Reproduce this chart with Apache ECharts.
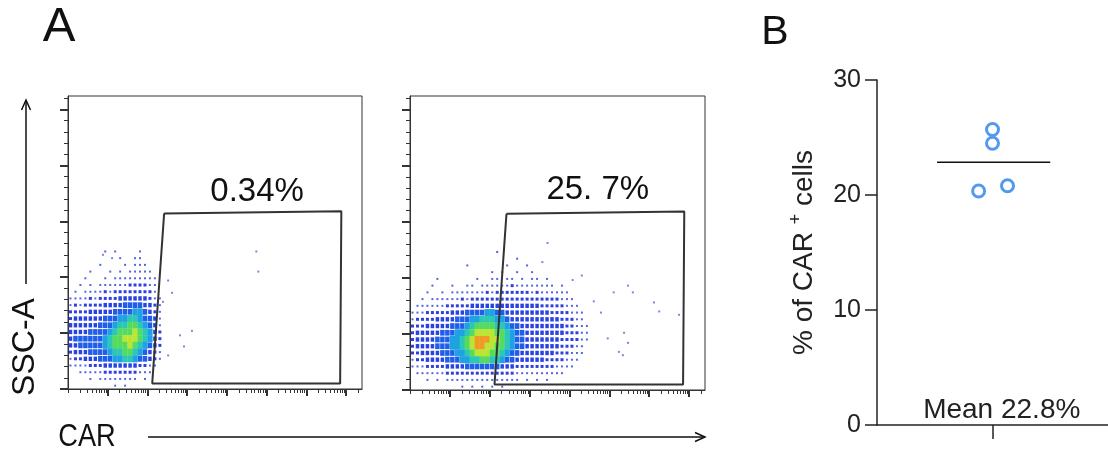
<!DOCTYPE html>
<html><head><meta charset="utf-8">
<script src="https://cdn.jsdelivr.net/npm/echarts@6/dist/echarts.min.js"></script>
<style>html,body{margin:0;padding:0;background:#fff}#c{width:1108px;height:458px}</style>
</head><body><div id="c"></div>
<script>
// ---------------- data ----------------
const panelLetters = ['A', 'B'];
const flowAxisNames = ['SSC-A', 'CAR'];
const gateLabels = ['0.34%', '25. 7%'];
// gate vertices in (log10 CAR, SSC-A in K) units
const gatePolygon = [[2.42, 157], [6.88, 159], [6.85, 5], [2.12, 5], [2.42, 157]];
const gateLabelPos = [[4.76, 176], [4.71, 178]];
// density grid: columns step 0.125 decade starting at 0, rows step 6K starting at 123K (top) going down
const densityXStep = 0.125, densityYStep = 6, densityYTop = 123;
const densityCtrl = [
  "00000001010000100000",
  "00000000001001100000",
  "00000010000101110000",
  "00001000101011111000",
  "00010001011111111100",
  "00101011111122221100",
  "01011112122222222100",
  "11112122223333332110",
  "12122223333444433210",
  "22223333344445543210",
  "23333334445566544310",
  "33333344456677654310",
  "33334444567778765320",
  "34444445677888765320",
  "33444445677787654320",
  "23334444566776543210",
  "12233344455665443210",
  "11112223333333221100",
  "00111112222222111000",
  "00001011111111010000",
  "00000000010100000000"
];
const densityCar = [
  "00000000000000000100000000000000000000",
  "00000000000000000000010000000000000000",
  "00000000000100000001000100000000000000",
  "00000000000000001010010010000000000000",
  "00000100000001001101101011010000000000",
  "00001000100110111111211111111010000000",
  "00010010111111121222222212111111000000",
  "00101111112122222222222222222211100000",
  "01111112222233333333333333222221110000",
  "11122222333444455443333333332222111000",
  "12222333344455666554333333333322211000",
  "22233333444567777665443333333332211100",
  "23333344455678888776544333333332221100",
  "23333444556789998876544333333322221100",
  "23333444556789988776544333333322211000",
  "22333344455678887765443333333222111000",
  "12233334445566776654433333322221110000",
  "11122223333444444433322222222111100000",
  "01111112222222222222211111111110000000",
  "00010101111111111111110101010000000000",
  "00000000001010101010000000000000000000"
];
const sparseCtrl = [[4.74,123],[4.79,105],[3.12,52],[2.82,48],[2.92,38],[2.52,30],[2.62,86],[2.52,97],[2.39,78],[0.88,120],[1.11,117]];
const sparseCar = [[3.45,131],[3.32,114],[4.31,102],[4.61,79],[5.11,87],[5.47,93],[5.59,87],[6.12,78],[6.25,70],[6.75,67],[4.96,46],[5.37,51],[5.47,42],[5.24,34],[5.34,31],[4.79,69],[4.08,98]];
const sscMajorTicks = [0, 50, 100, 150, 200, 250];
const sscMinorTicks = [10,20,30,40,60,70,80,90,110,120,130,140,160,170,180,190,210,220,230,240,260];
const carDecades = [0, 1, 2, 3, 4, 5, 6, 7];
const carMax = 7.4, sscMax = 262;

const pctValues = [25.7, 24.5, 20.35, 20.8];
const pctX = [1, 1, 0.88, 1.13];
const pctTicks = [0, 10, 20, 30];
const pctAxisName = ['% of CAR ', '+', ' cells'];

// ---------------- build ----------------
const FONT = '"Liberation Sans", Arial, sans-serif';
const INK = '#222';
const levelColors = ['', '#5565e0', '#2f40dc', '#2a42e2', '#1f5ee8', '#1fa2e2', '#2cc8b4', '#55dc5e', '#bce432', '#f09a26'];

const grids = [
  {left: 68, top: 96, width: 294, height: 293},
  {left: 410, top: 96, width: 295, height: 294},
  {left: 877, top: 80, width: 231, height: 345}
];

const logTicks = [];
carDecades.forEach(d => { for (let k = 1; k <= 9; k++) { const v = d + Math.log10(k); if (v <= carMax) logTicks.push(v); } });
const logMajor = carDecades.filter(d => d > 0);

function cells(rows) {
  const out = [];
  rows.forEach((r, i) => {
    for (let j = 0; j < r.length; j++) {
      const v = +r[j];
      if (v > 0) out.push([(j + 0.5) * densityXStep, densityYTop - i * densityYStep, v]);
    }
  });
  return out;
}

function xAx(g, ticks, len, w, line) {
  return {type: 'value', gridIndex: g, min: 0, max: carMax, position: 'bottom', offset: 0,
    axisLine: {show: line, onZero: false, lineStyle: {color: '#333', width: 1}},
    axisTick: {show: true, customValues: ticks, length: len, lineStyle: {color: '#333', width: w}},
    axisLabel: {show: false}, splitLine: {show: false}};
}
function yAx(g, ticks, len, w, line) {
  return {type: 'value', gridIndex: g, min: 0, max: sscMax, position: 'left', offset: 0,
    axisLine: {show: line, onZero: false, lineStyle: {color: '#333', width: 1}},
    axisTick: {show: true, customValues: ticks, length: len, lineStyle: {color: '#333', width: w}},
    axisLabel: {show: false}, splitLine: {show: false}};
}

const chart = echarts.init(document.getElementById('c'), null, {renderer: 'canvas'});

function densitySeries(g, rows) {
  const gr = grids[g];
  const cw = gr.width / carMax * densityXStep, ch = gr.height / sscMax * densityYStep;
  return {type: 'scatter', xAxisIndex: g * 2, yAxisIndex: g * 2, data: cells(rows), symbol: 'rect', silent: true,
    symbolSize: v => v[2] === 1 ? [2, 2] : v[2] === 2 ? [3, 3] : v[2] === 3 ? [cw * 0.7, ch * 0.65] : v[2] === 4 ? [cw * 0.9, ch * 0.85] : [cw + 0.3, ch + 0.3],
    itemStyle: {color: p => levelColors[p.data[2]], opacity: 1}, z: 1};
}
function sparseSeries(g, pts) {
  return {type: 'scatter', xAxisIndex: g * 2, yAxisIndex: g * 2, data: pts, symbol: 'rect', symbolSize: 2,
    itemStyle: {color: '#7d88d6', opacity: 1}, silent: true, z: 1};
}
function gateSeries(g) {
  return {type: 'line', xAxisIndex: g * 2, yAxisIndex: g * 2, data: gatePolygon, symbol: 'none', silent: true,
    lineStyle: {color: '#333', width: 2}, z: 3};
}
function gateLabelSeries(g) {
  return {type: 'scatter', xAxisIndex: g * 2, yAxisIndex: g * 2, data: [gateLabelPos[g]], symbolSize: 0, silent: true,
    itemStyle: {opacity: 1},
    label: {show: true, position: 'inside', formatter: gateLabels[g], fontSize: 33, color: '#111', fontFamily: FONT}, z: 4};
}

const mean = pctValues.reduce((a, b) => a + b, 0) / pctValues.length;

const option = {
  animation: false,
  backgroundColor: '#fff',
  grid: grids.map((g, i) => Object.assign({show: i < 2, borderColor: '#333', borderWidth: 1, backgroundColor: 'transparent', containLabel: false, outerBoundsMode: 'none'}, g)),
  xAxis: [
    xAx(0, logMajor, 7, 2, true), xAx(0, logTicks, 4, 1, false),
    xAx(1, logMajor, 7, 2, true), xAx(1, logTicks, 4, 1, false),
    {type: 'value', gridIndex: 2, min: 0, max: 2, position: 'bottom',
     axisLine: {show: true, onZero: false, lineStyle: {color: INK, width: 1.5}},
     axisTick: {show: true, customValues: [1], length: 14, lineStyle: {color: INK, width: 1.5}},
     axisLabel: {show: false}, splitLine: {show: false}}
  ],
  yAxis: [
    yAx(0, sscMajorTicks, 8, 2, true), yAx(0, sscMinorTicks, 4, 1, false),
    yAx(1, sscMajorTicks, 8, 2, true), yAx(1, sscMinorTicks, 4, 1, false),
    {type: 'value', gridIndex: 2, min: pctTicks[0], max: pctTicks[pctTicks.length - 1], interval: 10, position: 'left',
     axisLine: {show: true, onZero: false, lineStyle: {color: INK, width: 1.5}},
     axisTick: {show: true, length: 12, lineStyle: {color: INK, width: 1.5}},
     axisLabel: {show: true, fontSize: 25, color: INK, fontFamily: FONT, margin: 16,
       formatter: v => pctTicks.includes(v) ? String(v) : ''},
     splitLine: {show: false},
     name: pctAxisName[0] + '{sup|' + pctAxisName[1] + '}' + pctAxisName[2],
     nameLocation: 'middle', nameGap: 56, nameRotate: 90, nameMoveOverlap: false,
     nameTextStyle: {fontSize: 28, color: INK, fontFamily: FONT,
       rich: {sup: {fontSize: 18, color: INK, fontFamily: FONT, padding: [0, 0, 16, 0]}}}}
  ],
  series: [
    densitySeries(0, densityCtrl), sparseSeries(0, sparseCtrl), gateSeries(0), gateLabelSeries(0),
    densitySeries(1, densityCar), sparseSeries(1, sparseCar), gateSeries(1), gateLabelSeries(1),
    {type: 'line', xAxisIndex: 4, yAxisIndex: 4, data: [[0.52, mean], [1.5, mean]], symbol: 'none', silent: true,
     lineStyle: {color: '#111', width: 1.5}, z: 2},
    {type: 'scatter', xAxisIndex: 4, yAxisIndex: 4, data: pctValues.map((v, i) => [pctX[i], v]), symbol: 'circle', symbolSize: 12,
     itemStyle: {color: '#fff', borderColor: '#5599ec', borderWidth: 3, opacity: 1}, silent: true, z: 3},
    {type: 'scatter', xAxisIndex: 4, yAxisIndex: 4, data: [[1.08, 1.3]], symbolSize: 0, silent: true, itemStyle: {opacity: 1},
     label: {show: true, position: 'inside', formatter: 'Mean ' + mean.toFixed(1) + '%', fontSize: 28, color: INK, fontFamily: FONT}, z: 4}
  ],
  graphic: [
    {type: 'text', x: 59, y: 27, style: {text: panelLetters[0], font: '49px ' + FONT, fill: '#111', align: 'center', verticalAlign: 'middle'}},
    {type: 'text', x: 775, y: 33, style: {text: panelLetters[1], font: '41px ' + FONT, fill: '#111', align: 'center', verticalAlign: 'middle'}},
    {type: 'text', x: 25, y: 347, rotation: Math.PI / 2, style: {text: flowAxisNames[0], font: '32px ' + FONT, fill: '#111', align: 'center', verticalAlign: 'middle'}},
    {type: 'line', shape: {x1: 26, y1: 284, x2: 26, y2: 101}, style: {stroke: '#111', lineWidth: 1.5}},
    {type: 'polyline', shape: {points: [[21.5, 110], [26, 100], [30.5, 110]]}, style: {stroke: '#111', lineWidth: 1.5, fill: null}},
    {type: 'text', x: 87, y: 437, scaleX: 0.85, style: {text: flowAxisNames[1], font: '32px ' + FONT, fill: '#111', align: 'center', verticalAlign: 'middle'}},
    {type: 'line', shape: {x1: 148, y1: 437, x2: 704, y2: 437}, style: {stroke: '#111', lineWidth: 1.5}},
    {type: 'polyline', shape: {points: [[695, 432.5], [705, 437], [695, 441.5]]}, style: {stroke: '#111', lineWidth: 1.5, fill: null}}
  ]
};
chart.setOption(option);
</script></body></html>
